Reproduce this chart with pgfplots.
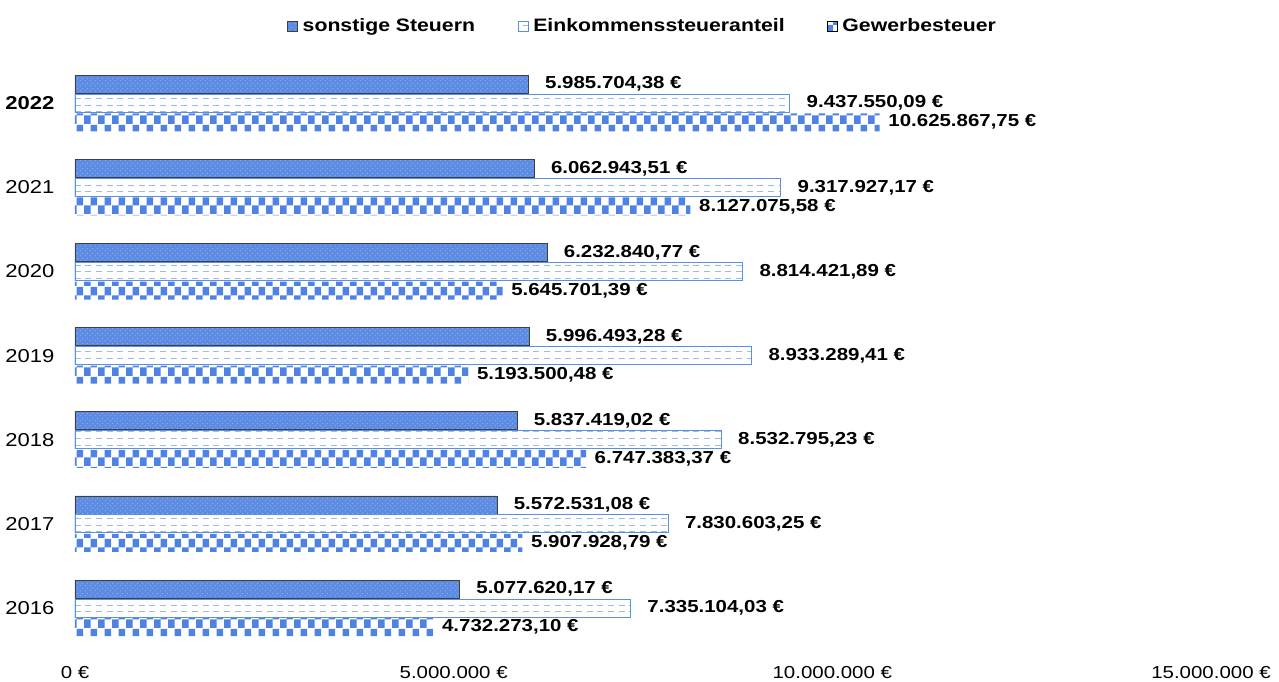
\documentclass[border=0pt]{standalone}
\usepackage{fontspec}
\setmainfont{Liberation Sans}[FakeStretch=1.18]
\usepackage{pgfplots}
\pgfplotsset{compat=1.18}
\usetikzlibrary{patterns}

\definecolor{sblue}{HTML}{5B8BE2}
\definecolor{sdot}{HTML}{8FB0EE}
\definecolor{eblue}{HTML}{5A8FE6}
\definecolor{eline}{HTML}{9DBBEA}
\definecolor{gblue}{HTML}{4F82E3}

% checker board for Gewerbesteuer
\pgfdeclarepatternformonly{checker}{\pgfqpoint{0pt}{0pt}}{\pgfqpoint{10.5pt}{13.5pt}}{\pgfqpoint{10.5pt}{13.5pt}}{%
  \pgfpathrectangle{\pgfqpoint{0pt}{0pt}}{\pgfqpoint{5.25pt}{6.75pt}}%
  \pgfpathrectangle{\pgfqpoint{5.25pt}{6.75pt}}{\pgfqpoint{5.25pt}{6.75pt}}%
  \pgfusepath{fill}}
% dashed lines for Einkommenssteueranteil
\pgfdeclarepatternformonly{hdash}{\pgfqpoint{-1pt}{-1pt}}{\pgfqpoint{9pt}{6pt}}{\pgfqpoint{8pt}{5pt}}{%
  \pgfsetlinewidth{0.9pt}%
  \pgfpathmoveto{\pgfqpoint{0pt}{2.5pt}}\pgfpathlineto{\pgfqpoint{4.5pt}{2.5pt}}%
  \pgfusepath{stroke}}
% light dots for sonstige Steuern
\pgfdeclarepatternformonly{wdots}{\pgfqpoint{0pt}{0pt}}{\pgfqpoint{4pt}{4pt}}{\pgfqpoint{4pt}{4pt}}{%
  \pgfpathcircle{\pgfqpoint{1pt}{1pt}}{0.55pt}%
  \pgfpathcircle{\pgfqpoint{3pt}{3pt}}{0.55pt}%
  \pgfusepath{fill}}

\pgfplotstableread{
y v l
0 5077620.17 {5.077.620,17 €}
1 5572531.08 {5.572.531,08 €}
2 5837419.02 {5.837.419,02 €}
3 5996493.28 {5.996.493,28 €}
4 6232840.77 {6.232.840,77 €}
5 6062943.51 {6.062.943,51 €}
6 5985704.38 {5.985.704,38 €}
}\sonstige
\pgfplotstableread{
y v l
0 7335104.03 {7.335.104,03 €}
1 7830603.25 {7.830.603,25 €}
2 8532795.23 {8.532.795,23 €}
3 8933289.41 {8.933.289,41 €}
4 8814421.89 {8.814.421,89 €}
5 9317927.17 {9.317.927,17 €}
6 9437550.09 {9.437.550,09 €}
}\einkommen
\pgfplotstableread{
y v l
0 4732273.10 {4.732.273,10 €}
1 5907928.79 {5.907.928,79 €}
2 6747383.37 {6.747.383,37 €}
3 5193500.48 {5.193.500,48 €}
4 5645701.39 {5.645.701,39 €}
5 8127075.58 {8.127.075,58 €}
6 10625867.75 {10.625.867,75 €}
}\gewerbe

\begin{document}
\begin{tikzpicture}
\begin{axis}[
    scale only axis,
    width=852pt, height=448pt,
    xmin=0, xmax=15000000,
    ymin=-0.5, ymax=6.6,
    scaled x ticks=false,
    axis line style={draw=none},
    major tick length=0pt,
    xtick={0,5000000,10000000,15000000},
    xticklabels={0 €, 5.000.000 €, 10.000.000 €, 15.000.000 €},
    ytick={0,...,6},
    yticklabels={2016,2017,2018,2019,2020,2021,\textbf{2022}},
    xticklabel style={yshift=-9pt, font=\fontsize{13}{15}\selectfont},
    yticklabel style={xshift=-12pt, font=\fontsize{14}{16}\selectfont},
    xbar, bar width=13.5pt,
    point meta=explicit symbolic,
    nodes near coords,
    every node near coord/.append style={font=\bfseries\fontsize{13}{15}\selectfont, anchor=west},
    legend style={draw=none, at={(0.5,1)}, anchor=south, yshift=10pt,
        font=\bfseries\fontsize{13.5}{15}\selectfont, column sep=1.5pt,
        /tikz/every even column/.append style={column sep=30pt}},
    legend columns=3,
    legend image code/.code={\draw[#1] (0pt,-3.7pt) rectangle (7.4pt,3.7pt);},
]
\addplot[bar shift=14.25pt, fill=sblue, draw=black!75, line width=0.6pt,
    postaction={pattern=wdots, pattern color=sdot},
    nodes near coords style={xshift=9pt}]
    table[x=v, y=y, meta=l] {\sonstige};
\addlegendentry{sonstige Steuern}
\addplot[bar shift=0pt, fill=white, draw=eblue, line width=0.8pt,
    postaction={pattern=hdash, pattern color=eline},
    nodes near coords style={xshift=9pt}]
    table[x=v, y=y, meta=l] {\einkommen};
\addlegendentry{Einkommenssteueranteil}
\addplot[bar shift=-14.25pt, draw=none, pattern=checker, pattern color=gblue,
    nodes near coords style={xshift=3pt}]
    table[x=v, y=y, meta=l] {\gewerbe};
\addlegendentry{Gewerbesteuer}
\end{axis}
\pgfresetboundingbox
\path ([xshift=-56.25pt,yshift=-23.75pt]current axis.south west)
  rectangle ([xshift=51pt,yshift=39.6pt]current axis.north east);
\end{tikzpicture}
\end{document}
